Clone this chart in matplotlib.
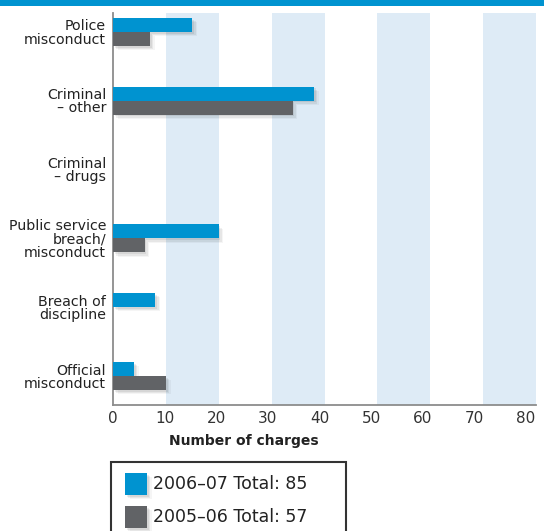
import matplotlib
matplotlib.use("Agg")
import matplotlib.pyplot as plt
import matplotlib.patheffects as pe
import matplotlib.transforms as mtransforms
from matplotlib.patches import Rectangle
import numpy as np

plt.rcParams['font.family'] = ['DejaVu Sans']

categories = [
    "Police\nmisconduct",
    "Criminal\n\u2013 other",
    "Criminal\n\u2013 drugs",
    "Public service\nbreach/\nmisconduct",
    "Breach of\ndiscipline",
    "Official\nmisconduct",
]
charges_2006_07 = [15, 38, 0, 20, 8, 4]
charges_2005_06 = [7, 34, 0, 6, 0, 10]
series_labels = ["2006\u201307 Total: 85", "2005\u201306 Total: 57"]
x_ticks = [0, 10, 20, 30, 40, 50, 60, 70, 80]

BLUE = "#0093d0"
GREY = "#616366"
BAND = "#deebf6"
AXIS = "#8c8c8c"

W, H = 544, 531
fig = plt.figure(figsize=(W / 100, H / 100), dpi=100)

def fx(px):
    return px / W

def fy(py):
    return 1 - py / H

# header strip
fig.patches.append(Rectangle((0, fy(6)), 1, 6 / H, transform=fig.transFigure,
                             facecolor=BLUE, edgecolor="none", zorder=0))

ax = fig.add_axes([fx(113), fy(405), fx(536) - fx(113), (405 - 13) / H])

# alternating background bands
for lo in range(10, 80, 20):
    ax.axvspan(lo, lo + 10, color=BAND, zorder=0, lw=0)

shadow = [
    pe.SimplePatchShadow(offset=(1.2, -1.2), shadow_rgbFace="k", alpha=0.07),
    pe.SimplePatchShadow(offset=(2.4, -2.2), shadow_rgbFace="k", alpha=0.06),
    pe.SimplePatchShadow(offset=(3.4, -3.0), shadow_rgbFace="k", alpha=0.04),
    pe.Normal(),
]

y = np.arange(len(categories))
h = 0.2035
b1 = ax.barh(y - h / 2, charges_2006_07, height=h, color=BLUE, zorder=3)
b2 = ax.barh(y + h / 2, charges_2005_06, height=h, color=GREY, zorder=3)
for bar in list(b1) + list(b2):
    if bar.get_width() > 0:
        bar.set_path_effects(shadow)

ax.set_xlim(0, 80)
ax.set_ylim(5.42, -0.276)
ax.set_xticks(x_ticks)
ax.set_xticklabels([str(t) for t in x_ticks], fontsize=11, color="#333333")
ax.set_yticks(y)
ax.set_yticklabels(categories, fontsize=10.2, color="#222222", linespacing=0.92)
ax.tick_params(axis="both", length=0)
ax.tick_params(axis="x", pad=4)
ax.tick_params(axis="y", pad=5)

# pull the number labels slightly leftwards so the last one stays inside
for i, lbl in enumerate(ax.get_xticklabels()):
    shift = mtransforms.ScaledTranslation(-1.25 * i / 100, 0, fig.dpi_scale_trans)
    lbl.set_transform(lbl.get_transform() + shift)

for s in ["top", "right"]:
    ax.spines[s].set_visible(False)
for s in ["left", "bottom"]:
    ax.spines[s].set_color(AXIS)
    ax.spines[s].set_linewidth(1.3)

fig.text(fx(244), fy(441), "Number of charges", ha="center", va="center",
         fontsize=10, fontweight="bold", color="#222222")

# legend box
fig.patches.append(Rectangle((fx(111), fy(540)), fx(346) - fx(111), (540 - 462) / H,
                             transform=fig.transFigure, facecolor="white",
                             edgecolor="#333333", lw=1.5))
for i, (lab, col) in enumerate(zip(series_labels, [BLUE, GREY])):
    top = 473 + i * 33
    sq = Rectangle((fx(125), fy(top + 22)), 22 / W, 22 / H, transform=fig.transFigure,
                   facecolor=col, edgecolor="none")
    sq.set_path_effects(shadow)
    fig.patches.append(sq)
    fig.text(fx(153), fy(top + 11), lab, ha="left", va="center",
             fontsize=12.5, color="#222222")

fig.savefig("out.png", dpi=100)
